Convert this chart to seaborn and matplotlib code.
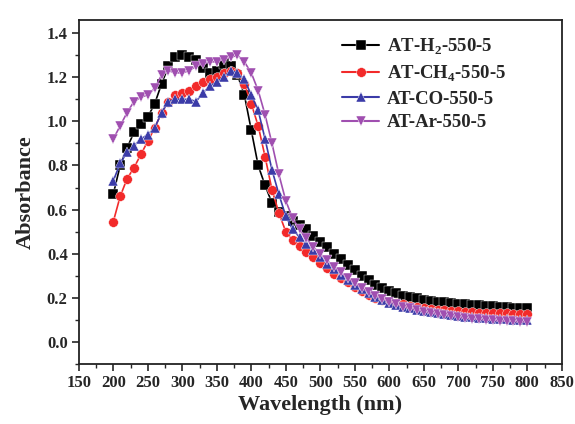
import numpy as np
import pandas as pd
import matplotlib
matplotlib.use("Agg")
import matplotlib.pyplot as plt
from matplotlib.ticker import MultipleLocator
import seaborn as sns

wavelength = list(range(200, 801, 10))

h2 = [0.67, 0.80, 0.88, 0.95, 0.99, 1.02, 1.08, 1.17, 1.25, 1.29,
      1.30, 1.29, 1.28, 1.24, 1.22, 1.23, 1.26, 1.25, 1.21, 1.12,
      0.96, 0.80, 0.71, 0.63, 0.59, 0.57, 0.55, 0.53, 0.51, 0.48,
      0.455, 0.43, 0.40, 0.375, 0.35, 0.325, 0.30, 0.28, 0.26, 0.245,
      0.23, 0.22, 0.21, 0.205, 0.197, 0.192, 0.187, 0.183, 0.18, 0.177,
      0.174, 0.171, 0.168, 0.166, 0.164, 0.162, 0.16, 0.158, 0.156, 0.155,
      0.154]
ch4 = [0.545, 0.66, 0.74, 0.79, 0.85, 0.91, 0.97, 1.04, 1.09, 1.12,
       1.13, 1.14, 1.16, 1.18, 1.19, 1.20, 1.22, 1.23, 1.22, 1.17,
       1.08, 0.98, 0.84, 0.69, 0.585, 0.50, 0.46, 0.435, 0.41, 0.385,
       0.36, 0.335, 0.31, 0.29, 0.27, 0.25, 0.232, 0.215, 0.20, 0.188,
       0.18, 0.175, 0.17, 0.163, 0.158, 0.153, 0.15, 0.147, 0.144, 0.141,
       0.139, 0.137, 0.135, 0.133, 0.132, 0.131, 0.13, 0.129, 0.128, 0.127,
       0.126]
co = [0.73, 0.81, 0.86, 0.89, 0.92, 0.94, 0.97, 1.04, 1.09, 1.10,
      1.10, 1.10, 1.09, 1.13, 1.16, 1.18, 1.20, 1.23, 1.22, 1.19,
      1.12, 1.05, 0.92, 0.78, 0.67, 0.57, 0.51, 0.475, 0.445, 0.415,
      0.385, 0.355, 0.33, 0.305, 0.28, 0.26, 0.24, 0.22, 0.205, 0.19,
      0.178, 0.168, 0.16, 0.152, 0.145, 0.139, 0.134, 0.129, 0.125, 0.121,
      0.118, 0.115, 0.112, 0.11, 0.108, 0.106, 0.104, 0.102, 0.101, 0.10,
      0.099]
ar = [0.92, 0.98, 1.04, 1.09, 1.11, 1.12, 1.15, 1.21, 1.23, 1.22,
      1.22, 1.23, 1.25, 1.26, 1.27, 1.27, 1.28, 1.29, 1.30, 1.27,
      1.22, 1.14, 1.03, 0.90, 0.76, 0.64, 0.56, 0.51, 0.47, 0.43,
      0.40, 0.37, 0.34, 0.315, 0.29, 0.265, 0.245, 0.225, 0.21, 0.195,
      0.182, 0.17, 0.16, 0.152, 0.144, 0.137, 0.131, 0.125, 0.12, 0.116,
      0.112, 0.108, 0.105, 0.102, 0.10, 0.098, 0.096, 0.094, 0.093, 0.092,
      0.091]

labels = [r"AT-H$_\mathregular{2}$-550-5", r"AT-CH$_\mathregular{4}$-550-5",
          "AT-CO-550-5", "AT-Ar-550-5"]
series = [h2, ch4, co, ar]
colors = ["#000000", "#f22a2a", "#3b3ba8", "#a04fb0"]
markers = ["s", "o", "^", "v"]
xticks = list(range(150, 851, 50))
yticks = [0.0, 0.2, 0.4, 0.6, 0.8, 1.0, 1.2, 1.4]

df = pd.concat([pd.DataFrame({"Wavelength": wavelength, "Absorbance": s, "Sample": l})
                for s, l in zip(series, labels)], ignore_index=True)

sns.set_style("ticks")
plt.rcParams["font.family"] = ["Liberation Serif", "DejaVu Serif"]
plt.rcParams["font.weight"] = "bold"
plt.rcParams["mathtext.fontset"] = "custom"
plt.rcParams["mathtext.rm"] = "Liberation Serif:bold"

fig = plt.figure(figsize=(5.75, 4.24), dpi=100)
ax = fig.add_axes([0.137, 0.1415, 0.840, 0.8115])

sns.lineplot(data=df, x="Wavelength", y="Absorbance", hue="Sample", style="Sample",
             palette=dict(zip(labels, colors)), markers=dict(zip(labels, markers)),
             dashes=False, linewidth=1.2, markersize=7, markeredgewidth=0.3,
             ax=ax, legend=True)

ax.set_xlim(150, 850)
ax.set_ylim(-0.1, 1.46)
ax.set_xticks(xticks)
ax.set_yticks(yticks)
ax.set_yticklabels([f"{v:.1f}" for v in yticks])
ax.xaxis.set_minor_locator(MultipleLocator(25))
ax.yaxis.set_minor_locator(MultipleLocator(0.1))
ax.tick_params(axis="both", which="major", direction="out", length=5, width=1.2,
               labelsize=12, top=False, right=False, pad=3)
ax.tick_params(axis="both", which="minor", direction="out", length=3, width=1.0,
               top=False, right=False)
for lbl in ax.get_xticklabels() + ax.get_yticklabels():
    lbl.set_fontweight("bold")
for sp in ax.spines.values():
    sp.set_visible(True)
    sp.set_linewidth(1.3)
    sp.set_color("#222222")

ax.set_xlabel("Wavelength (nm)", fontsize=16, fontweight="bold", labelpad=3)
ax.set_ylabel("Absorbance", fontsize=16, fontweight="bold", labelpad=8)

leg = ax.legend(loc="upper left", bbox_to_anchor=(0.51, 1.0), frameon=False,
                prop={"family": "Liberation Serif", "weight": "bold", "size": 13.5},
                handlelength=2.0, labelspacing=0.35, handletextpad=0.4)
for line in leg.get_lines():
    line.set_linewidth(1.5)

fig.savefig("out.png", dpi=100)
